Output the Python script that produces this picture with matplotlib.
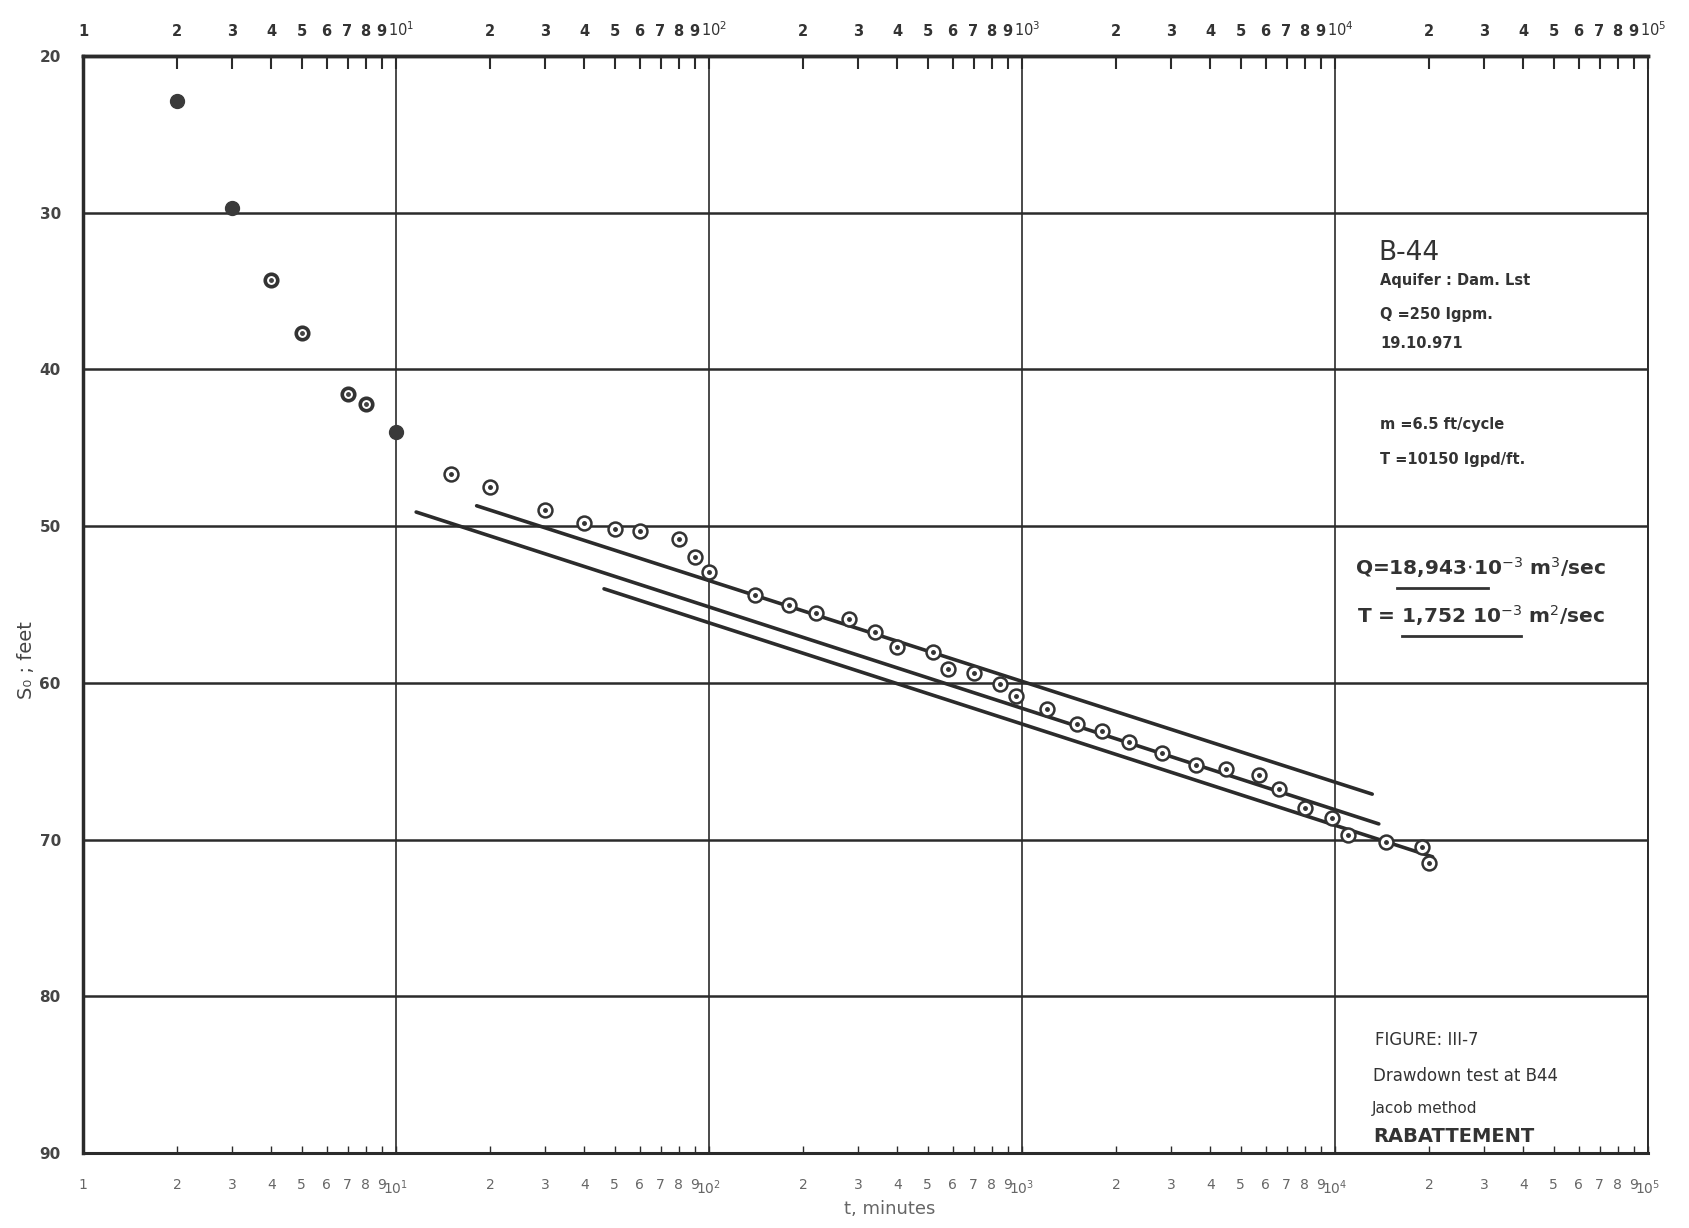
import numpy as np
import matplotlib
matplotlib.use("Agg")
import matplotlib.pyplot as plt
import matplotlib.transforms as mtransforms
from matplotlib.ticker import FuncFormatter, FixedLocator
from matplotlib.lines import Line2D

# drawdown readings, time in minutes / drawdown in feet
t_filled = [2, 3, 10]
s_filled = [22.9, 29.7, 44.0]

t_ring = [4, 5, 7, 8]
s_ring = [34.3, 37.7, 41.55, 42.2]

t_open = [15, 20, 30, 40, 50, 60, 80, 90, 100, 140, 180, 220, 280, 340, 400,
          520, 580, 700, 850, 960, 1200, 1500, 1800, 2200, 2800, 3600, 4500,
          5700, 6600, 8000, 9800, 11000, 14500, 19000, 20000]
s_open = [46.7, 47.5, 48.95, 49.8, 50.2, 50.3, 50.8, 51.95, 52.9, 54.4, 55.0,
          55.55, 55.9, 56.75, 57.7, 58.05, 59.1, 59.35, 60.1, 60.85, 61.7,
          62.65, 63.05, 63.8, 64.5, 65.25, 65.5, 65.9, 66.8, 68.0, 68.6, 69.7,
          70.15, 70.45, 71.5]

# straight line fits (Jacob), start / end points
lineA_t = [11.6, 13800]
lineA_s = [49.1, 69.0]
lineB_t = [18.1, 13150]
lineB_s = [48.7, 67.1]
lineC_t = [46.2, 20500]
lineC_s = [54.0, 71.1]

decades = [1, 10, 100, 1000, 10000, 100000]
minor_x = [m * d for d in decades[:-1] for m in range(2, 10)]
y_ticks = [20, 30, 40, 50, 60, 70, 80, 90]

ink = "#2b2b2b"
W, H = 1690, 1228

fig = plt.figure(figsize=(W / 100, H / 100), dpi=100)
fig.patch.set_facecolor("white")
ax = fig.add_axes([83 / W, 1 - 1153 / H, (1648 - 83) / W, (1153 - 56) / H])

ax.set_xscale("log")
ax.set_xlim(1, 1e5)
ax.set_ylim(90, 20)

# grid
ax.set_yticks(y_ticks)
ax.yaxis.set_major_formatter(FuncFormatter(lambda v, p: "%d" % v))
ax.grid(True, axis="y", which="major", color=ink, lw=1.8)
ax.grid(True, axis="x", which="major", color=ink, lw=1.2)

def xfmt(v, p):
    e = int(round(np.log10(v)))
    if abs(v - 10 ** e) < 1e-6 * v:
        return "1" if e == 0 else r"$10^{%d}$" % e
    m = v / 10 ** np.floor(np.log10(v))
    return "%d" % round(m)

ax.xaxis.set_major_locator(FixedLocator(decades))
ax.xaxis.set_minor_locator(FixedLocator(minor_x))
ax.xaxis.set_major_formatter(FuncFormatter(xfmt))
ax.xaxis.set_minor_formatter(FuncFormatter(xfmt))
ax.tick_params(axis="x", which="both", direction="in", length=5, width=1,
               color=ink, labelsize=10, labelcolor="#666666", pad=18)
ax.tick_params(axis="y", which="both", length=0, labelsize=11,
               labelcolor="#444444", pad=16)
for lab in ax.get_yticklabels():
    lab.set_fontweight("bold")

# top scale, bold labels and ticks hanging from the top edge
top = ax.secondary_xaxis("top")
top.xaxis.set_major_locator(FixedLocator(decades))
top.xaxis.set_minor_locator(FixedLocator(minor_x))
top.xaxis.set_major_formatter(FuncFormatter(xfmt))
top.xaxis.set_minor_formatter(FuncFormatter(xfmt))
top.tick_params(axis="x", which="both", direction="in", length=9, width=1.5,
                color=ink, labelsize=10.5, labelcolor="#333333", pad=12)
for lab in top.get_xticklabels(which="both"):
    lab.set_fontweight("bold")
# nudge the crowded "10^k" labels a little to the right
nudge = mtransforms.ScaledTranslation(5 / 100, 0, fig.dpi_scale_trans)
for tk in top.xaxis.get_major_ticks()[1:]:
    tk.label2.set_transform(tk.label2.get_transform() + nudge)
top.spines["top"].set_linewidth(2.5)
top.spines["top"].set_color(ink)

for side, lw in [("left", 2.5), ("top", 2.5), ("bottom", 2.2), ("right", 1.4)]:
    ax.spines[side].set_linewidth(lw)
    ax.spines[side].set_color(ink)

# fitted lines
ax.plot(lineA_t, lineA_s, color=ink, lw=2.6, solid_capstyle="round")
ax.plot(lineB_t, lineB_s, color=ink, lw=2.6, solid_capstyle="round")
ax.plot(lineC_t, lineC_s, color=ink, lw=2.6, solid_capstyle="round")

# data points
ax.plot(t_filled, s_filled, "o", ms=10, mfc="#3a3a3a", mec="#3a3a3a", zorder=5)
ax.plot(t_ring, s_ring, "o", ms=9, mfc="white", mec="#333333", mew=2.6, zorder=5)
ax.plot(t_ring, s_ring, "o", ms=2.5, mfc="#444444", mec="#444444", zorder=6)
ax.plot(t_open, s_open, "o", ms=10, mfc="white", mec="#333333", mew=1.8, zorder=5)
ax.plot(t_open, s_open, "o", ms=2.5, mfc="#333333", mec="#333333", zorder=6)

# axis titles
fig.text(27 / W, 1 - 660 / H, "S₀ ; feet", rotation=90, ha="center", va="center",
         fontsize=14, color="#444444")
fig.text(890 / W, 1 - 1209 / H, "t, minutes", ha="center", va="center",
         fontsize=13, color="#666666")

# annotations in the right-hand column
def ftext(x, y, s, **kw):
    fig.text(x / W, 1 - y / H, s, ha="left", va="center", color="#333333", **kw)

ftext(1378, 253, "B-44", fontsize=19)
ftext(1380, 281, "Aquifer : Dam. Lst", fontsize=10.5, fontweight="bold")
ftext(1380, 315, "Q =250 Igpm.", fontsize=10.5, fontweight="bold")
ftext(1380, 343, "19.10.971", fontsize=10.5, fontweight="bold")
ftext(1380, 425, "m =6.5 ft/cycle", fontsize=10.5, fontweight="bold")
ftext(1380, 459, "T =10150 Igpd/ft.", fontsize=10.5, fontweight="bold")

ftext(1355, 568, r"Q=18,943$\cdot$10$^{-3}$ m$^{3}$/sec", fontsize=14.5,
      fontweight="bold")
ftext(1357, 616, r"T = 1,752 10$^{-3}$ m$^{2}$/sec", fontsize=14.5,
      fontweight="bold")
fig.add_artist(Line2D([1397 / W, 1488 / W], [1 - 588 / H, 1 - 588 / H],
                      color="#333333", lw=2))
fig.add_artist(Line2D([1402 / W, 1521 / W], [1 - 636 / H, 1 - 636 / H],
                      color="#333333", lw=2))

ftext(1375, 1040, "FIGURE: III-7", fontsize=12)
ftext(1373, 1076, "Drawdown test at B44", fontsize=12)
ftext(1372, 1109, "Jacob method", fontsize=11)
ftext(1373, 1136, "RABATTEMENT", fontsize=14, fontweight="bold")

fig.savefig("out.png", dpi=100, facecolor="white")
